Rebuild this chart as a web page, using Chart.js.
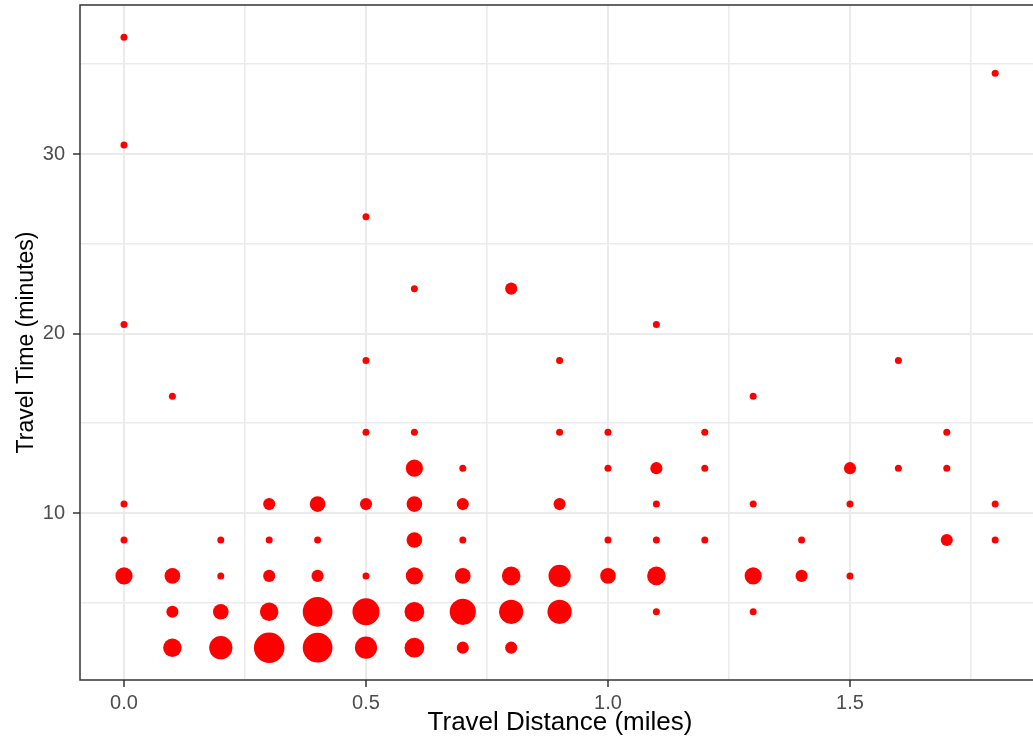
<!DOCTYPE html>
<html lang="en">
<head>
  <meta charset="UTF-8">
  <title>Travel Time vs Travel Distance</title>
  <script src="https://cdn.jsdelivr.net/npm/chart.js"></script>
  <style>
    body {
      margin: 0;
      background: #fff;
      overflow: hidden;
    }
    /* a bit wider than the window: the right edge of the panel is cut off in the original */
    .wrap {
      width: 1040px;
      height: 743px;
    }
  </style>
</head>
<body>
  <div class="wrap"><canvas id="chart"></canvas></div>

  <script>
    // one entry per bubble: distance (miles), time (minutes), number of trips
    const distance = [
      0.0, 0.0, 0.0, 0.0, 0.0, 0.0,
      0.1, 0.1, 0.1, 0.1,
      0.2, 0.2, 0.2, 0.2,
      0.3, 0.3, 0.3, 0.3, 0.3,
      0.4, 0.4, 0.4, 0.4, 0.4,
      0.5, 0.5, 0.5, 0.5, 0.5, 0.5, 0.5,
      0.6, 0.6, 0.6, 0.6, 0.6, 0.6, 0.6, 0.6,
      0.7, 0.7, 0.7, 0.7, 0.7, 0.7,
      0.8, 0.8, 0.8, 0.8,
      0.9, 0.9, 0.9, 0.9, 0.9,
      1.0, 1.0, 1.0, 1.0,
      1.1, 1.1, 1.1, 1.1, 1.1, 1.1,
      1.2, 1.2, 1.2,
      1.3, 1.3, 1.3, 1.3,
      1.4, 1.4,
      1.5, 1.5, 1.5,
      1.6, 1.6,
      1.7, 1.7, 1.7,
      1.8, 1.8, 1.8
    ];
    const time = [
      36.5, 30.5, 20.5, 10.5, 8.5, 6.5,
      16.5, 6.5, 4.5, 2.5,
      8.5, 6.5, 4.5, 2.5,
      10.5, 8.5, 6.5, 4.5, 2.5,
      10.5, 8.5, 6.5, 4.5, 2.5,
      26.5, 18.5, 14.5, 10.5, 6.5, 4.5, 2.5,
      22.5, 14.5, 12.5, 10.5, 8.5, 6.5, 4.5, 2.5,
      12.5, 10.5, 8.5, 6.5, 4.5, 2.5,
      22.5, 6.5, 4.5, 2.5,
      18.5, 14.5, 10.5, 6.5, 4.5,
      14.5, 12.5, 8.5, 6.5,
      20.5, 12.5, 10.5, 8.5, 6.5, 4.5,
      14.5, 12.5, 8.5,
      16.5, 10.5, 6.5, 4.5,
      8.5, 6.5,
      12.5, 10.5, 6.5,
      18.5, 12.5,
      14.5, 12.5, 8.5,
      34.5, 10.5, 8.5
    ];
    const count = [
      1, 1, 1, 1, 1, 6,
      1, 5, 3, 7,
      1, 1, 5, 11,
      3, 1, 3, 7, 19,
      5, 1, 3, 18, 18,
      1, 1, 1, 3, 1, 15, 10,
      1, 1, 6, 5, 5, 6, 8, 8,
      1, 3, 1, 5, 14, 3,
      3, 7, 12, 3,
      1, 1, 3, 10, 12,
      1, 1, 1, 5,
      1, 3, 1, 1, 7, 1,
      1, 1, 1,
      1, 1, 6, 1,
      1, 3,
      3, 1, 1,
      1, 1,
      1, 1, 3,
      1, 1, 1
    ];

    const xTitle = 'Travel Distance (miles)';
    const yTitle = 'Travel Time (minutes)';

    const points = distance.map((d, i) => ({ x: d, y: time[i] }));

    const gridColor = '#EBEBEB';
    const tickText = '#4D4D4D';
    const frame = '#333333';

    // ggplot-style panel border around the plot area
    const panelBorder = {
      id: 'panelBorder',
      afterDraw(chart) {
        const { ctx, chartArea: a } = chart;
        ctx.save();
        ctx.strokeStyle = frame;
        ctx.lineWidth = 1.5;
        ctx.strokeRect(a.left, a.top, a.right - a.left, a.bottom - a.top);
        ctx.restore();
      }
    };

    function isMajor(v, step) {
      return Math.abs(v / step - Math.round(v / step)) < 1e-6;
    }

    new Chart(document.getElementById('chart'), {
      type: 'scatter',
      data: {
        datasets: [{
          data: points,
          backgroundColor: '#FF0000',
          borderWidth: 0,
          pointRadius: c => 3.5 * Math.sqrt(count[c.dataIndex]),
          pointHoverRadius: c => 3.5 * Math.sqrt(count[c.dataIndex])
        }]
      },
      options: {
        responsive: true,
        maintainAspectRatio: false,
        animation: false,
        events: [],
        layout: { autoPadding: false, padding: { top: 5, left: 0, right: 0, bottom: 0 } },
        plugins: {
          legend: { display: false },
          tooltip: { enabled: false }
        },
        scales: {
          x: {
            type: 'linear',
            min: -0.0909,
            max: 1.8926,
            afterFit: s => { s.height = 63; s.paddingLeft = 0; s.paddingRight = 0; },
            border: { display: false },
            grid: {
              color: gridColor,
              lineWidth: c => isMajor(c.tick.value, 0.5) ? 2 : 1.6,
              tickColor: c => isMajor(c.tick.value, 0.5) ? frame : 'rgba(0,0,0,0)',
              tickLength: 7,
              tickWidth: 1.5
            },
            ticks: {
              stepSize: 0.25,
              includeBounds: false,
              autoSkip: false,
              maxRotation: 0,
              padding: 4,
              color: tickText,
              font: { family: 'Liberation Sans', size: 20 },
              callback: v => isMajor(v, 0.5) ? v.toFixed(1) : ''
            },
            title: {
              display: true,
              text: xTitle,
              color: '#000',
              font: { family: 'Liberation Sans', size: 26 },
              padding: { top: 0, bottom: 5 }
            }
          },
          y: {
            type: 'linear',
            min: 0.7,
            max: 38.3,
            afterFit: s => { s.width = 80; s.paddingTop = 0; s.paddingBottom = 0; },
            border: { display: false },
            grid: {
              color: gridColor,
              lineWidth: c => isMajor(c.tick.value, 10) ? 2 : 1.6,
              tickColor: c => isMajor(c.tick.value, 10) ? frame : 'rgba(0,0,0,0)',
              tickLength: 7,
              tickWidth: 1.5
            },
            ticks: {
              stepSize: 5,
              includeBounds: false,
              autoSkip: false,
              padding: 8,
              color: tickText,
              font: { family: 'Liberation Sans', size: 20 },
              callback: v => isMajor(v, 10) ? String(v) : ''
            },
            title: {
              display: true,
              text: yTitle,
              color: '#000',
              font: { family: 'Liberation Sans', size: 23 },
              padding: { top: 13, bottom: 0 }
            }
          }
        }
      },
      plugins: [panelBorder]
    });
  </script>
</body>
</html>
